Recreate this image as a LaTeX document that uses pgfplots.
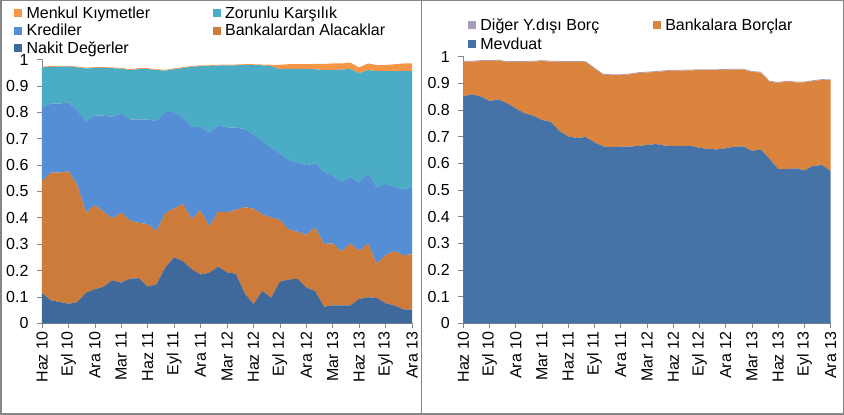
\documentclass[border=0pt]{standalone}
\usepackage{fontspec}
\setmainfont{Liberation Sans}
\usepackage{pgfplots}
\usepackage{pgfplotstable}
\pgfplotsset{compat=1.18}

\definecolor{menkul}{HTML}{F79646}
\definecolor{zorunlu}{HTML}{4BACC6}
\definecolor{kredi}{HTML}{558ED5}
\definecolor{alacak}{HTML}{CD7B3A}
\definecolor{nakit}{HTML}{3F699B}
\definecolor{diger}{HTML}{A99BBD}
\definecolor{borc}{HTML}{DB843D}
\definecolor{mevduat}{HTML}{4572A7}
\definecolor{frame}{HTML}{868686}

% aktif kalemlerin payi (aylik, Haz 10 = 0 ... Ara 13 = 42)
\pgfplotstableread{
i  N     B     K     Z     M
0  0.114 0.425 0.279 0.152 0.003
1  0.087 0.484 0.262 0.139 0.003
2  0.081 0.490 0.262 0.140 0.003
3  0.074 0.502 0.261 0.136 0.003
4  0.080 0.444 0.282 0.164 0.003
5  0.116 0.303 0.347 0.200 0.003
6  0.129 0.319 0.339 0.181 0.003
7  0.139 0.284 0.364 0.181 0.003
8  0.163 0.235 0.385 0.184 0.003
9  0.154 0.266 0.375 0.170 0.003
10 0.169 0.220 0.384 0.187 0.003
11 0.171 0.210 0.392 0.191 0.003
12 0.139 0.237 0.397 0.191 0.003
13 0.148 0.202 0.416 0.194 0.003
14 0.212 0.206 0.384 0.156 0.003
15 0.250 0.185 0.365 0.163 0.003
16 0.235 0.217 0.326 0.190 0.003
17 0.205 0.190 0.348 0.229 0.003
18 0.185 0.243 0.317 0.230 0.003
19 0.192 0.174 0.357 0.252 0.003
20 0.215 0.208 0.327 0.227 0.003
21 0.193 0.228 0.322 0.235 0.003
22 0.188 0.242 0.312 0.236 0.003
23 0.114 0.326 0.297 0.242 0.003
24 0.072 0.363 0.279 0.265 0.003
25 0.123 0.290 0.278 0.287 0.003
26 0.097 0.304 0.265 0.309 0.005
27 0.158 0.234 0.252 0.319 0.017
28 0.166 0.190 0.263 0.346 0.017
29 0.169 0.178 0.263 0.354 0.018
30 0.135 0.200 0.265 0.364 0.018
31 0.123 0.240 0.243 0.357 0.020
32 0.063 0.238 0.271 0.388 0.023
33 0.068 0.235 0.257 0.400 0.025
34 0.068 0.204 0.265 0.425 0.023
35 0.068 0.235 0.252 0.409 0.024
36 0.092 0.182 0.259 0.415 0.022
37 0.099 0.204 0.267 0.390 0.025
38 0.096 0.129 0.290 0.441 0.023
39 0.076 0.183 0.270 0.427 0.023
40 0.067 0.207 0.244 0.438 0.026
41 0.053 0.205 0.249 0.449 0.029
42 0.052 0.210 0.253 0.441 0.029
}\aktif

% pasif kalemlerin payi
\pgfplotstableread{
i  Mev   Bank  Dig
0  0.850 0.130 0.003
1  0.858 0.123 0.003
2  0.850 0.133 0.003
3  0.833 0.150 0.003
4  0.839 0.146 0.003
5  0.825 0.154 0.003
6  0.805 0.175 0.003
7  0.787 0.193 0.003
8  0.778 0.203 0.003
9  0.762 0.221 0.003
10 0.755 0.226 0.003
11 0.720 0.260 0.003
12 0.700 0.280 0.003
13 0.695 0.285 0.003
14 0.698 0.281 0.003
15 0.678 0.277 0.003
16 0.663 0.269 0.003
17 0.660 0.270 0.003
18 0.662 0.268 0.003
19 0.662 0.271 0.003
20 0.665 0.273 0.003
21 0.668 0.272 0.003
22 0.672 0.270 0.003
23 0.666 0.279 0.003
24 0.665 0.282 0.003
25 0.665 0.282 0.003
26 0.665 0.283 0.003
27 0.658 0.291 0.003
28 0.653 0.296 0.003
29 0.652 0.297 0.003
30 0.656 0.294 0.003
31 0.662 0.289 0.003
32 0.663 0.288 0.003
33 0.646 0.296 0.003
34 0.652 0.288 0.003
35 0.616 0.290 0.003
36 0.578 0.323 0.003
37 0.578 0.328 0.003
38 0.581 0.322 0.003
39 0.573 0.330 0.003
40 0.590 0.318 0.003
41 0.593 0.319 0.003
42 0.570 0.341 0.003
}\pasif

\pgfplotsset{
  panel/.style={
    scale only axis,
    anchor=south west,
    xmin=0, xmax=42, ymin=0, ymax=1,
    axis x line*=bottom, axis y line*=left,
    axis line style={draw=frame},
    tick style={draw=frame, line width=0.6pt},
    tick align=outside, major tick length=5pt,
    xtick={0,3,...,42},
    xticklabels={Haz 10,Eyl 10,Ara 10,Mar 11,Haz 11,Eyl 11,Ara 11,Mar 12,Haz 12,Eyl 12,Ara 12,Mar 13,Haz 13,Eyl 13,Ara 13},
    xticklabel style={rotate=90, anchor=east},
    ytick={0,0.1,0.2,0.3,0.4,0.5,0.6,0.7,0.8,0.9,1},
    yticklabel style={xshift=-5pt},
    /pgf/number format/assume math mode=true,
    /pgf/number format/fixed,
    ticklabel style={font=\fontsize{16}{18}\selectfont},
    stack plots=y,
    reverse legend,
    legend columns=2,
    legend cell align=left,
    legend style={draw=none, fill=none, anchor=north west, inner sep=0pt,
      font=\fontsize{16}{18}\selectfont,
      nodes={inner sep=1.5pt},
      /tikz/every odd column/.append style={column sep=3pt}},
    legend image code/.code={\fill[##1] (0pt,-4pt) rectangle (8pt,4pt);},
  },
}

\begin{document}
\begin{tikzpicture}
\draw[frame, line width=1.5pt] (0.75pt,0.75pt) rectangle (421.5pt,414.25pt);
\draw[frame, line width=1.5pt] (421.5pt,0.75pt) rectangle (843.25pt,414.25pt);

\begin{axis}[panel,
  at={(42pt,91.7pt)}, width=370pt, height=263.8pt,
  legend style={at={(-0.076,1.207)}, row sep=1.5pt,
    /tikz/every even column/.append style={column sep=61pt}},
]
\addplot[fill=nakit, draw=none] table[x=i, y=N] {\aktif} \closedcycle;
\addlegendentry{Nakit Değerler}
\addplot[fill=alacak, draw=none] table[x=i, y=B] {\aktif} \closedcycle;
\addlegendentry{Bankalardan Alacaklar}
\addplot[fill=kredi, draw=none] table[x=i, y=K] {\aktif} \closedcycle;
\addlegendentry{Krediler}
\addplot[fill=zorunlu, draw=none] table[x=i, y=Z] {\aktif} \closedcycle;
\addlegendentry{Zorunlu Karşılık}
\addplot[fill=menkul, draw=none] table[x=i, y=M] {\aktif} \closedcycle;
\addlegendentry{Menkul Kıymetler}
\end{axis}

\begin{axis}[panel,
  at={(463.3pt,91.7pt)}, width=367.4pt, height=266.8pt,
  legend style={at={(0.012,1.148)}, row sep=2.5pt,
    /tikz/every even column/.append style={column sep=52pt}},
]
\addplot[fill=mevduat, draw=none] table[x=i, y=Mev] {\pasif} \closedcycle;
\addlegendentry{Mevduat}
\addplot[fill=borc, draw=none] table[x=i, y=Bank] {\pasif} \closedcycle;
\addlegendentry{Bankalara Borçlar}
\addplot[fill=diger, draw=none] table[x=i, y=Dig] {\pasif} \closedcycle;
\addlegendentry{Diğer Y.dışı Borç}
\end{axis}
\end{tikzpicture}
\end{document}
